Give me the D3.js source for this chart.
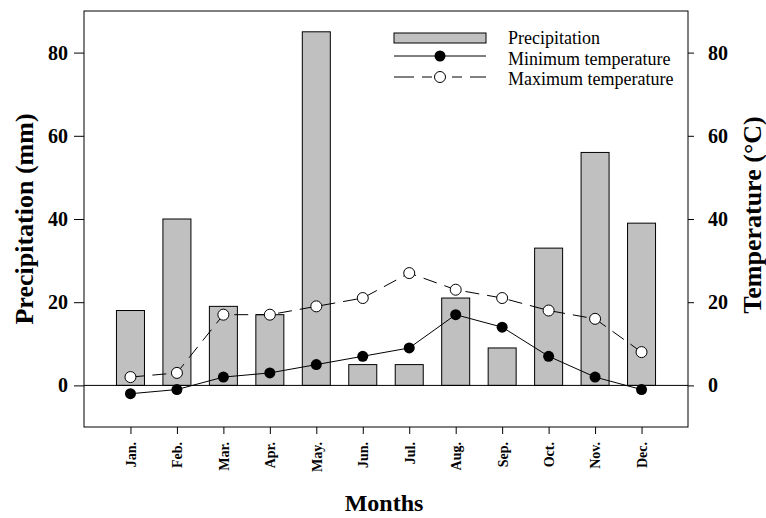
<!DOCTYPE html>
<html>
<head>
<meta charset="utf-8">
<script src="https://cdn.jsdelivr.net/npm/d3@7"></script>
<style>
  body { margin: 0; background: #fff; }
  text { font-family: "Liberation Serif", "Times New Roman", serif; }
</style>
</head>
<body>
<svg id="chart"></svg>
<script>
var width = 766;
var height = 518;

var months = ['Jan.', 'Feb.', 'Mar.', 'Apr.', 'May.', 'Jun.', 'Jul.', 'Aug.', 'Sep.', 'Oct.', 'Nov.', 'Dec.'];
var precipitation = [18, 40, 19, 17, 85, 5, 5, 21, 9, 33, 56, 39];
var minTemp = [-2, -1, 2, 3, 5, 7, 9, 17, 14, 7, 2, -1];
var maxTemp = [2, 3, 17, 17, 19, 21, 27, 23, 21, 18, 16, 8];
var yTicks = [0, 20, 40, 60, 80];

var plotL = 84, plotR = 688, plotT = 11, plotB = 427;

var svg = d3.select('#chart')
  .attr('width', width)
  .attr('height', height);

var xScale = d3.scalePoint()
  .domain(months)
  .range([plotL, plotR])
  .padding(1);

var yScale = d3.scaleLinear()
  .domain([-10, 90])
  .range([plotB, plotT]);

// temperature uses same range
var tScale = d3.scaleLinear()
  .domain([-10, 90])
  .range([plotB, plotT]);

var barW = 28;

// bars
svg.append('g')
  .selectAll('rect')
  .data(precipitation)
  .enter()
  .append('rect')
    .attr('x', (d, i) => xScale(months[i]) - barW / 2)
    .attr('y', d => yScale(d))
    .attr('width', barW)
    .attr('height', d => yScale(0) - yScale(d))
    .attr('fill', '#c0c0c0')
    .attr('stroke', '#000')
    .attr('stroke-width', 1);

// zero line
svg.append('line')
  .attr('x1', plotL).attr('x2', plotR)
  .attr('y1', yScale(0)).attr('y2', yScale(0))
  .attr('stroke', '#000');

var line = d3.line()
  .x((d, i) => xScale(months[i]))
  .y(d => tScale(d));

svg.append('path')
  .datum(maxTemp)
  .attr('d', line)
  .attr('fill', 'none')
  .attr('stroke', '#000')
  .attr('stroke-width', 1)
  .attr('stroke-dasharray', '14,8');

svg.append('path')
  .datum(minTemp)
  .attr('d', line)
  .attr('fill', 'none')
  .attr('stroke', '#000')
  .attr('stroke-width', 1);

svg.append('g')
  .selectAll('circle')
  .data(maxTemp)
  .enter()
  .append('circle')
    .attr('cx', (d, i) => xScale(months[i]))
    .attr('cy', d => tScale(d))
    .attr('r', 5.5)
    .attr('fill', '#fff')
    .attr('stroke', '#000');

svg.append('g')
  .selectAll('circle')
  .data(minTemp)
  .enter()
  .append('circle')
    .attr('cx', (d, i) => xScale(months[i]))
    .attr('cy', d => tScale(d))
    .attr('r', 5.5)
    .attr('fill', '#000');

// frame
svg.append('rect')
  .attr('x', plotL).attr('y', plotT)
  .attr('width', plotR - plotL).attr('height', plotB - plotT)
  .attr('fill', 'none')
  .attr('stroke', '#000');

// axes
var yAxis = svg.append('g')
  .attr('transform', 'translate(' + plotL + ',0)')
  .call(d3.axisLeft(yScale).tickValues(yTicks).tickSize(10).tickPadding(6));

var tAxis = svg.append('g')
  .attr('transform', 'translate(' + plotR + ',0)')
  .call(d3.axisRight(tScale).tickValues(yTicks).tickSize(6).tickPadding(14));

var xAxis = svg.append('g')
  .attr('transform', 'translate(0,' + plotB + ')')
  .call(d3.axisBottom(xScale).tickSize(7).tickPadding(0));

[yAxis, tAxis, xAxis].forEach(a => {
  a.select('.domain').remove();
  a.selectAll('line').attr('stroke', '#000');
  a.selectAll('text')
    .attr('fill', '#000')
    .style('font-family', '"Liberation Serif", serif')
    .style('font-weight', 'bold');
});
yAxis.selectAll('text').style('font-size', '20px');
tAxis.selectAll('text').style('font-size', '20px');

xAxis.selectAll('text')
  .style('font-size', '14px')
  .attr('transform', 'rotate(-90)')
  .attr('text-anchor', 'end')
  .attr('x', -15)
  .attr('y', 0)
  .attr('dy', '0.35em');

// titles
svg.append('text')
  .attr('transform', 'translate(33,219) rotate(-90)')
  .attr('text-anchor', 'middle')
  .style('font-size', '26px')
  .style('font-weight', 'bold')
  .text('Precipitation (mm)');

svg.append('text')
  .attr('transform', 'translate(761,215) rotate(-90)')
  .attr('text-anchor', 'middle')
  .style('font-size', '26px')
  .style('font-weight', 'bold')
  .text('Temperature (°C)');

svg.append('text')
  .attr('x', 384)
  .attr('y', 511)
  .attr('text-anchor', 'middle')
  .style('font-size', '24px')
  .style('font-weight', 'bold')
  .text('Months');

// legend
var legend = svg.append('g');
var lx = 394, lw = 92, tx = 508;

legend.append('rect')
  .attr('x', lx).attr('y', 33)
  .attr('width', lw).attr('height', 10)
  .attr('fill', '#c0c0c0')
  .attr('stroke', '#000');

legend.append('line')
  .attr('x1', lx).attr('x2', lx + lw)
  .attr('y1', 56).attr('y2', 56)
  .attr('stroke', '#000');
legend.append('circle')
  .attr('cx', lx + lw / 2).attr('cy', 56).attr('r', 5.5)
  .attr('fill', '#000');

legend.append('line')
  .attr('x1', lx).attr('x2', lx + lw)
  .attr('y1', 77).attr('y2', 77)
  .attr('stroke', '#000')
  .attr('stroke-dasharray', '20,8,10,20,10,8,20');
legend.append('circle')
  .attr('cx', lx + lw / 2).attr('cy', 77).attr('r', 5.5)
  .attr('fill', '#fff')
  .attr('stroke', '#000');

var legendLabels = ['Precipitation', 'Minimum temperature', 'Maximum temperature'];
legend.selectAll('.lab')
  .data(legendLabels)
  .enter()
  .append('text')
    .attr('class', 'lab')
    .attr('x', tx)
    .attr('y', (d, i) => 44 + i * 20.5)
    .style('font-size', '18px')
    .text(d => d);
</script>
</body>
</html>
